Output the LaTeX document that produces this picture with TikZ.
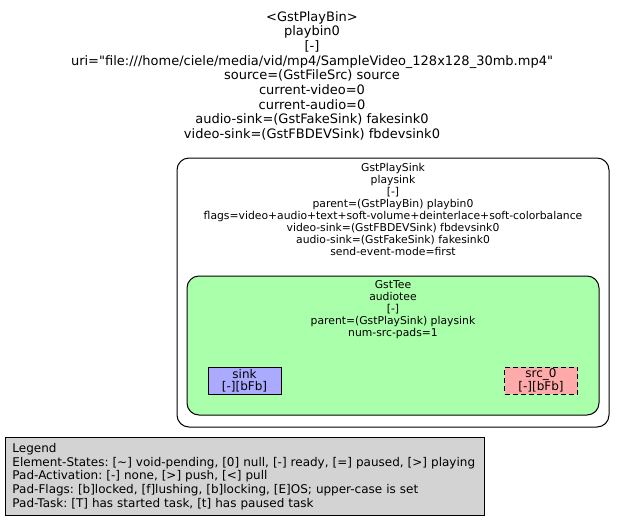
\documentclass[tikz,border=0pt]{standalone}
\usepackage{fontspec}
\setmainfont{DejaVu Sans}
\usetikzlibrary{positioning}
\frenchspacing
\definecolor{teegreen}{HTML}{AAFFAA}
\definecolor{sinkblue}{HTML}{AAAAFF}
\definecolor{srcred}{HTML}{FFAAAA}
\definecolor{legendgray}{HTML}{D3D3D3}
\tikzset{elem/.style = {draw,rounded corners=12pt,line width=1pt,inner sep=0pt},
         info/.style = {align=center,inner sep=0pt,anchor=north,font=\fontsize{10.8}{12}\selectfont},
         pad/.style  = {draw,line width=1pt,inner sep=0pt,minimum width=73pt,minimum height=27pt,
                        align=center,font=\fontsize{12}{11.6}\selectfont}}
\begin{document}
\begin{tikzpicture}[x=1pt,y=-1pt]
    \useasboundingbox (0,0) rectangle (625,520);

    \node [align=center,inner sep=0pt,anchor=north,font=\fontsize{13}{14.7}\selectfont] (playbin) at (312,11)
        {<GstPlayBin>\\playbin0\\{[-]}\\uri=\textquotedbl file:///home/ciele/media/vid/mp4/SampleVideo\_128x128\_30mb.mp4\textquotedbl\\
         source=(GstFileSrc) source\\current-video=0\\current-audio=0\\
         audio-sink=(GstFakeSink) fakesink0\\video-sink=(GstFBDEVSink) fbdevsink0};

    \node [elem,fill=white,minimum width=432pt,minimum height=269pt] (playsink) at (393,292.5) {};
    \node [info,below=6pt of playsink.north] (playsinklbl)
        {GstPlaySink\\playsink\\{[-]}\\parent=(GstPlayBin) playbin0\\
         flags=video+audio+text+soft-volume+deinterlace+soft-colorbalance\\
         video-sink=(GstFBDEVSink) fbdevsink0\\audio-sink=(GstFakeSink) fakesink0\\send-event-mode=first};

    \node [elem,fill=teegreen,minimum width=412pt,minimum height=139pt] (audiotee) at (393,345.5) {};
    \node [info,below=5pt of audiotee.north] (audioteelbl)
        {GstTee\\audiotee\\{[-]}\\parent=(GstPlaySink) playsink\\num-src-pads=1};

    \node [pad,fill=sinkblue] (sink) at (244.5,380.5) {sink\\{[-][bFb]}};
    \node [pad,fill=srcred,dashed,dash pattern=on 5pt off 3pt] (src) at (541,380.5) {src\_0\\{[-][bFb]}};

    \node [draw,fill=legendgray,line width=1pt,anchor=north west,minimum width=479pt,minimum height=78pt,
           text width=465pt,inner xsep=7pt,align=left,font=\fontsize{12}{13.6}\selectfont] (legend) at (5,437)
        {Legend\\Element-States: [\textasciitilde] void-pending, [0] null, [-] ready, [=] paused, [>] playing\\
         Pad-Activation: [-] none, [>] push, [<] pull\\
         Pad-Flags: [b]locked, [f]lushing, [b]locking, [E]OS; upper-case is set\\
         Pad-Task: [T] has started task, [t] has paused task};
\end{tikzpicture}
\end{document}
